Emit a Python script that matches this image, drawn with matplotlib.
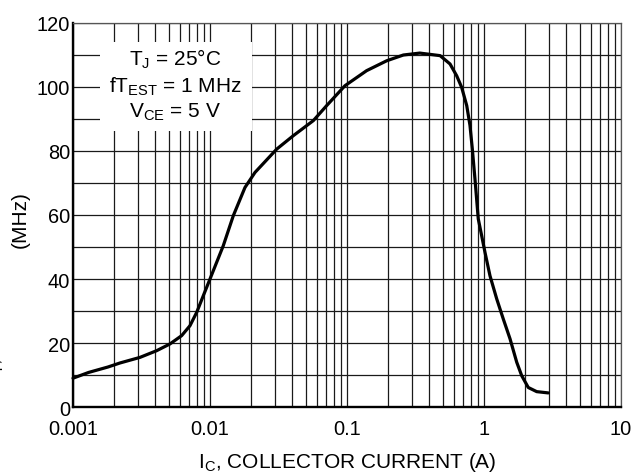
import matplotlib
matplotlib.use("Agg")
import matplotlib.pyplot as plt
from matplotlib.ticker import LogLocator, FixedLocator, NullFormatter
from matplotlib.patches import Rectangle

plt.rcParams['font.family'] = ['Liberation Sans', 'DejaVu Sans']
plt.rcParams['mathtext.fontset'] = 'custom'
plt.rcParams['mathtext.rm'] = 'Liberation Sans'

# Collector current (A) and gain-bandwidth product fT (MHz)
ic = [0.001, 0.0013, 0.0018, 0.0022, 0.00308, 0.00408, 0.0051, 0.00621,
      0.00714, 0.008, 0.00894, 0.01, 0.0125, 0.0148, 0.018, 0.0213,
      0.0307, 0.0406, 0.0568, 0.0711, 0.0966, 0.139, 0.195, 0.258,
      0.34, 0.478, 0.565, 0.632, 0.687, 0.748, 0.79, 0.822, 0.859,
      0.908, 0.962, 1.017, 1.106, 1.238, 1.383, 1.549, 1.733, 1.884,
      2.104, 2.425, 2.945]
ft = [9.0, 10.8, 12.5, 13.75, 15.5, 17.6, 19.7, 22.3,
      25.4, 29.6, 34.8, 40.0, 50.4, 59.8, 68.6, 73.3,
      80.6, 84.8, 89.5, 94.2, 100.4, 105.1, 108.2, 110.0,
      110.6, 109.8, 107.2, 103.5, 99.9, 94.2, 88.0, 80.6, 71.3,
      58.8, 53.5, 48.3, 41.0, 33.8, 27.5, 21.3, 14.0, 9.8,
      6.1, 4.8, 4.4]

xticks = [0.001, 0.01, 0.1, 1, 10]
xticklabels = ['0.001', '0.01', '0.1', '1', '10']
yticks = [0, 20, 40, 60, 80, 100, 120]

fig = plt.figure(figsize=(6.35, 4.77), dpi=100)
ax = fig.add_axes([73/635, 1 - 408/477, (621-73)/635, (408-24)/477])

ax.set_xscale('log')
ax.set_xlim(0.001, 10)
ax.set_ylim(0, 120)

ax.xaxis.set_major_locator(FixedLocator(xticks))
ax.set_xticklabels(xticklabels)
ax.xaxis.set_minor_locator(LogLocator(base=10, subs=range(2, 10), numticks=20))
ax.xaxis.set_minor_formatter(NullFormatter())
ax.yaxis.set_major_locator(FixedLocator(yticks))
ax.yaxis.set_minor_locator(FixedLocator(range(10, 120, 20)))

ax.grid(True, which='both', axis='both', color='#1a1a1a', lw=0.9)
ax.set_axisbelow(True)

ax.tick_params(which='both', length=0, labelsize=14.4)
ax.tick_params(axis='x', pad=8.5)
ax.tick_params(axis='y', pad=2)

for s in ['left', 'bottom']:
    ax.spines[s].set_linewidth(1.7)
    ax.spines[s].set_color('black')
for s in ['top', 'right']:
    ax.spines[s].set_linewidth(0.9)
    ax.spines[s].set_color('#555555')

ax.plot(ic, ft, color='black', lw=2.3, solid_capstyle='round',
        solid_joinstyle='round', zorder=3, clip_on=False)

# white box for conditions text
ax.add_patch(Rectangle((0.00157, 86.3), 0.0203 - 0.00157, 114.0 - 86.3,
                       facecolor='white', edgecolor='none', zorder=2))
cx = 10 ** ((175 - 73) / 137 - 3)
fs = 15
ax.text(cx, 107.2, r'T$_{\mathregular{J}}$ = 25°C', ha='center', va='baseline', fontsize=fs, zorder=4)
ax.text(cx, 98.75, r'fT$_{\mathregular{EST}}$ = 1 MHz', ha='center', va='baseline', fontsize=fs, zorder=4)
ax.text(cx, 90.9, r'V$_{\mathregular{CE}}$ = 5 V', ha='center', va='baseline', fontsize=fs, zorder=4)

fig.text(347/635, 1 - 468/477, r'I$_{\mathregular{C}}$, COLLECTOR CURRENT (A)',
         ha='center', va='baseline', fontsize=fs)
fig.text(20/635, 1 - 220/477, '(MHz)', rotation=90, ha='center', va='center', fontsize=fs)
fig.text(6/635, 1 - 380/477, r'f$_{\mathregular{T}}$, GAIN BANDWIDTH PRODUCT', rotation=90,
         ha='right', va='bottom', fontsize=fs)

fig.savefig('out.png', dpi=100)
